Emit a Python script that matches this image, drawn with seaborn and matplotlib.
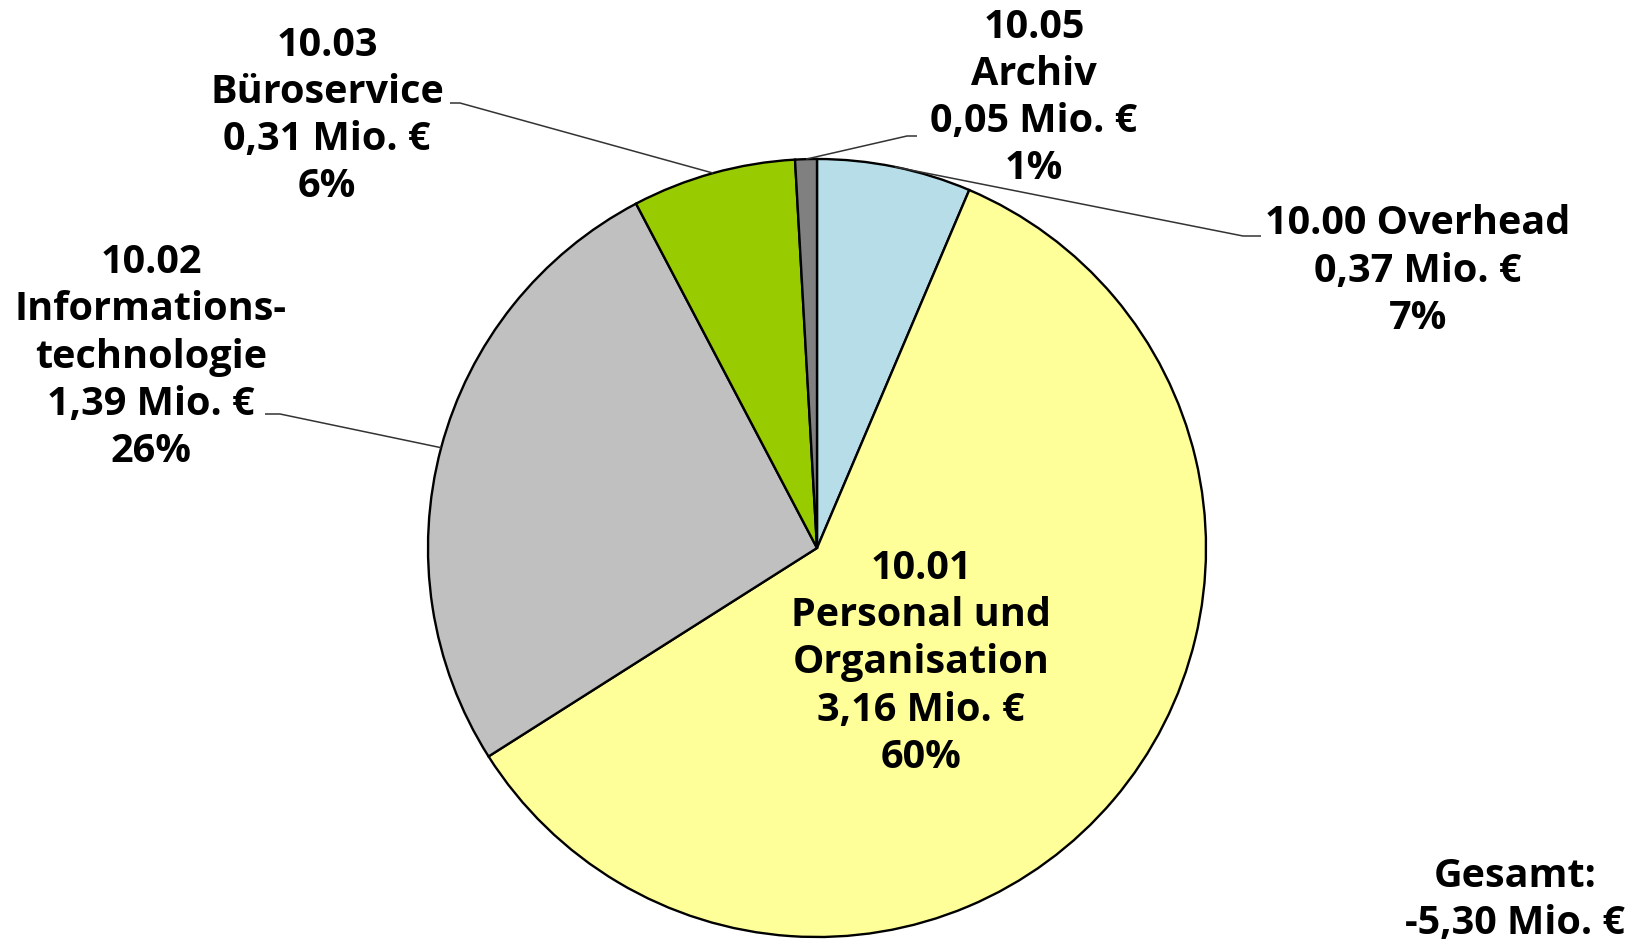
import numpy as np
import matplotlib
matplotlib.use("Agg")
import matplotlib.pyplot as plt
import seaborn as sns

# ---- data ----
codes = ["10.00", "10.01", "10.02", "10.03", "10.05"]
names = ["Overhead", "Personal und\nOrganisation", "Informations-\ntechnologie", "Büroservice", "Archiv"]
# wedge shares (percent) as drawn in the picture
shares = [6.4, 59.6, 26.3, 6.8, 0.9]
# values and percentages as printed in the labels
value_labels = ["0,37 Mio. €", "3,16 Mio. €", "1,39 Mio. €", "0,31 Mio. €", "0,05 Mio. €"]
pct_labels = ["7%", "60%", "26%", "6%", "1%"]
colors = ["#B7DEE8", "#FFFF99", "#C0C0C0", "#99CC00", "#808080"]
total_label = "Gesamt:\n-5,30 Mio. €"

sns.set_theme(style="white")
plt.rcParams["font.family"] = ["Open Sans", "DejaVu Sans"]

W, H = 1638, 946
fig = plt.figure(figsize=(W / 100, H / 100), dpi=100)
ax = fig.add_axes([0, 0, 1, 1])

cx, cy, R = 817, H - 548, 389
wedges, _ = ax.pie(shares, colors=colors, startangle=90, counterclock=False,
                   center=(cx, cy), radius=R,
                   wedgeprops=dict(edgecolor="black", linewidth=1.7))
ax.set_xlim(0, W)
ax.set_ylim(0, H)
ax.set_aspect("equal")
ax.axis("off")

# label layout: text centre (x, y from top), separator between code and name,
# knee point and end point of the leader line -- positions only
layout = {
    "10.00": dict(x=1418, y=271, sep=" ", knee=(1243, 236), end=(1261, 236)),
    "10.01": dict(x=921, y=663, sep="\n", knee=None, end=None),
    "10.02": dict(x=151, y=357, sep="\n", knee=(280, 414), end=(265, 414)),
    "10.03": dict(x=327, y=116, sep="\n", knee=(460, 103), end=(450, 103)),
    "10.05": dict(x=1034, y=98, sep="\n", knee=(907, 136), end=(917, 136)),
}

fs = 28.5
ls = 1.27
for w, code, name, vl, pl in zip(wedges, codes, names, value_labels, pct_labels):
    L = layout[code]
    txt = f"{code}{L['sep']}{name}\n{vl}\n{pl}"
    ax.text(L["x"], H - L["y"], txt, ha="center", va="center", fontsize=fs,
            fontweight="bold", linespacing=ls, color="black")
    if L["knee"] is not None:
        ang = np.deg2rad((w.theta1 + w.theta2) / 2)
        ex, ey = cx + R * np.cos(ang), cy + R * np.sin(ang)
        kx, ky = L["knee"]
        nx, ny = L["end"]
        ax.plot([ex, kx, nx], [ey, H - ky, H - ny], color="#333333", lw=1.1,
                solid_capstyle="butt")

ax.text(1515, H - 900, total_label, ha="center", va="center", fontsize=fs,
        fontweight="bold", linespacing=ls, color="black")

fig.savefig("out.png", dpi=100, facecolor="white")
